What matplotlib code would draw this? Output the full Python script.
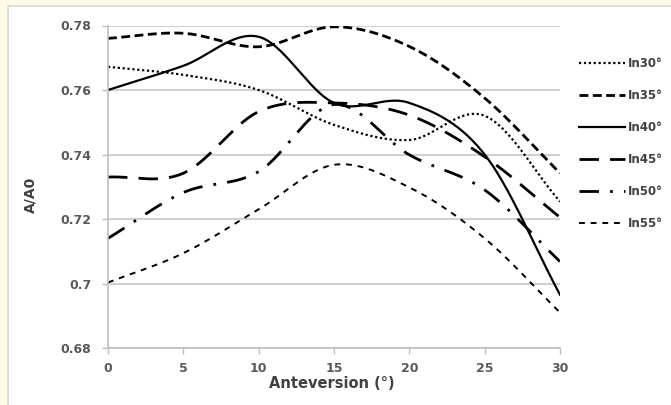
import numpy as np
import matplotlib
matplotlib.use("Agg")
import matplotlib.pyplot as plt
from matplotlib.patches import Rectangle

anteversion = [0, 5, 10, 15, 20, 25, 30]
in30 = [0.7672, 0.7647, 0.7600, 0.7492, 0.7445, 0.7520, 0.7254]
in35 = [0.7760, 0.7776, 0.7734, 0.7796, 0.7735, 0.7575, 0.7342]
in40 = [0.7600, 0.7675, 0.7765, 0.7560, 0.7560, 0.7400, 0.6965]
in45 = [0.7330, 0.7342, 0.7533, 0.7560, 0.7522, 0.7393, 0.7205]
in50 = [0.7140, 0.7282, 0.7347, 0.7555, 0.7399, 0.7290, 0.7068]
in55 = [0.7003, 0.7094, 0.7230, 0.7368, 0.7298, 0.7140, 0.6910]
labels = ["In30°", "In35°", "In40°", "In45°", "In50°", "In55°"]
yticks = [0.68, 0.70, 0.72, 0.74, 0.76, 0.78]
ytick_labels = ["0.68", "0.7", "0.72", "0.74", "0.76", "0.78"]
xticks = [0, 5, 10, 15, 20, 25, 30]


def smooth(x, y, n=30):
    # Catmull-Rom style smoothing (like spreadsheet "smoothed line")
    x = np.asarray(x, float)
    y = np.asarray(y, float)
    P = np.column_stack([x, y])
    Pext = np.vstack([2 * P[0] - P[1], P, 2 * P[-1] - P[-2]])
    out = []
    for i in range(1, len(Pext) - 2):
        p0, p1, p2, p3 = Pext[i - 1], Pext[i], Pext[i + 1], Pext[i + 2]
        c1 = p1 + (p2 - p0) / 6.0
        c2 = p2 - (p3 - p1) / 6.0
        t = np.linspace(0, 1, n, endpoint=(i == len(Pext) - 3))[:, None]
        seg = ((1 - t) ** 3) * p1 + 3 * ((1 - t) ** 2) * t * c1 + 3 * (1 - t) * t ** 2 * c2 + t ** 3 * p2
        out.append(seg)
    out = np.vstack(out)
    return out[:, 0], out[:, 1]


fig = plt.figure(figsize=(6.71, 4.05), dpi=100)
fig.patch.set_facecolor("#FFFBE6")
panel = Rectangle((8 / 671, -0.01), 1 - 8 / 671 + 0.01, 1 - 6 / 405 + 0.01, transform=fig.transFigure,
                  facecolor="white", edgecolor="#D8D8D8", linewidth=1.2, zorder=-10)
fig.patches.append(panel)

ax = fig.add_axes([108 / 671, 1 - 348 / 405, (560 - 108) / 671, (348 - 25.5) / 405])
ax.set_facecolor("none")
ax.set_zorder(5)

styles = [
    dict(linestyle=(0, (1, 1.2)), linewidth=1.6),
    dict(linestyle=(0, (3.2, 1.6)), linewidth=2.0),
    dict(linestyle="-", linewidth=1.6),
    dict(linestyle=(0, (7, 4)), linewidth=2.0),
    dict(linestyle=(0, (7, 4, 1, 4)), linewidth=2.0),
    dict(linestyle=(0, (3, 3)), linewidth=1.4),
]
series = [in30, in35, in40, in45, in50, in55]
handles = []
for ys, st, lab in zip(series, styles, labels):
    sx, sy = smooth(anteversion, ys)
    h, = ax.plot(sx, sy, color="black", label=lab, **st)
    handles.append(h)

ax.set_xlim(0, 30)
ax.set_ylim(0.68, 0.78)
ax.set_yticks(yticks)
ax.set_yticklabels(ytick_labels)
ax.set_xticks(xticks)
ax.grid(axis="y", color="#D0D0D0", linewidth=1.5)
ax.set_axisbelow(True)
for s in ["top", "right"]:
    ax.spines[s].set_visible(False)
for s in ["left", "bottom"]:
    ax.spines[s].set_color("#BFBFBF")
    ax.spines[s].set_linewidth(1.2)
ax.tick_params(axis="both", colors="#BFBFBF", labelcolor="#595959", labelsize=9,
               length=4, width=1.0, direction="out")
for lbl in ax.get_xticklabels() + ax.get_yticklabels():
    lbl.set_fontweight("bold")
ax.tick_params(axis="x", pad=6)
ax.tick_params(axis="y", pad=8)

fig.text(332 / 671, 1 - 383 / 405, "Anteversion (°)", ha="center", va="center",
         fontsize=10.5, fontweight="bold", color="#404040", zorder=10)
fig.text(30 / 671, 1 - 195 / 405, "A/A0", ha="center", va="center", rotation=90,
         fontsize=10, fontweight="bold", color="#404040")

leg = fig.legend(handles=handles, labels=labels, loc="center left",
                 bbox_to_anchor=(579 / 671, 1 - 143.5 / 405), frameon=False,
                 fontsize=8.5, handlelength=3.9, handletextpad=0.2,
                 labelspacing=1.62, borderaxespad=0, borderpad=0)
for t in leg.get_texts():
    t.set_fontweight("bold")
    t.set_color("#404040")

fig.savefig("out.png", dpi=100, facecolor=fig.get_facecolor())
